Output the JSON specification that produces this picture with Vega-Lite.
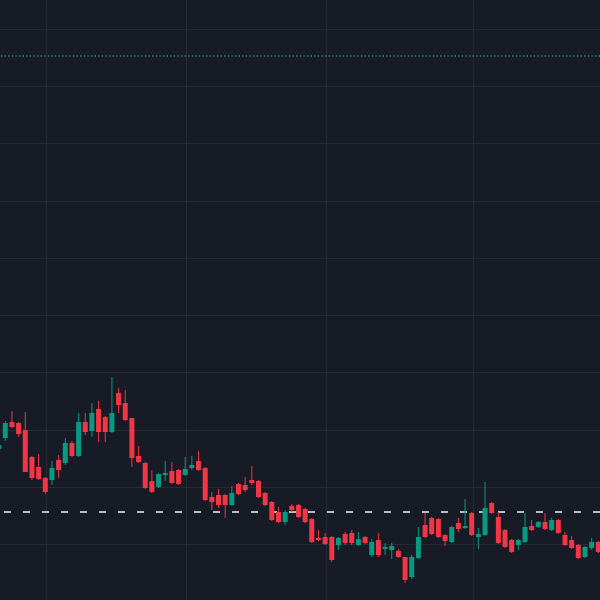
{
  "$schema": "https://vega.github.io/schema/vega-lite/v6.json",
  "width": 600,
  "height": 600,
  "autosize": {"type": "none"},
  "padding": 0,
  "background": "#171b26",
  "config": {
    "view": {"stroke": null},
    "axis": {"grid": true, "gridColor": "#262a36", "gridWidth": 1, "labels": false, "ticks": false, "domain": false, "title": null, "minExtent": 0, "maxExtent": 0}
  },
  "datasets": {
    "candles": [
      {"t":0,"o":15.51,"h":15.58,"l":15.48,"c":15.55},
      {"t":1,"o":15.62,"h":15.79,"l":15.59,"c":15.77},
      {"t":2,"o":15.78,"h":15.89,"l":15.72,"c":15.73},
      {"t":3,"o":15.77,"h":15.78,"l":15.63,"c":15.66},
      {"t":4,"o":15.70,"h":15.88,"l":15.28,"c":15.28},
      {"t":5,"o":15.43,"h":15.44,"l":15.20,"c":15.22},
      {"t":6,"o":15.33,"h":15.46,"l":15.20,"c":15.21},
      {"t":7,"o":15.22,"h":15.23,"l":15.06,"c":15.08},
      {"t":8,"o":15.20,"h":15.39,"l":15.15,"c":15.32},
      {"t":9,"o":15.40,"h":15.45,"l":15.22,"c":15.30},
      {"t":10,"o":15.37,"h":15.62,"l":15.35,"c":15.57},
      {"t":11,"o":15.57,"h":15.59,"l":15.43,"c":15.44},
      {"t":12,"o":15.44,"h":15.87,"l":15.43,"c":15.78},
      {"t":13,"o":15.78,"h":15.87,"l":15.65,"c":15.68},
      {"t":14,"o":15.69,"h":15.97,"l":15.63,"c":15.87},
      {"t":15,"o":15.91,"h":15.99,"l":15.58,"c":15.68},
      {"t":16,"o":15.83,"h":15.84,"l":15.58,"c":15.68},
      {"t":17,"o":15.68,"h":16.23,"l":15.67,"c":15.87},
      {"t":18,"o":16.07,"h":16.12,"l":15.87,"c":15.95},
      {"t":19,"o":15.97,"h":16.10,"l":15.79,"c":15.80},
      {"t":20,"o":15.82,"h":15.82,"l":15.33,"c":15.42},
      {"t":21,"o":15.44,"h":15.54,"l":15.37,"c":15.38},
      {"t":22,"o":15.37,"h":15.38,"l":15.11,"c":15.12},
      {"t":23,"o":15.19,"h":15.30,"l":15.07,"c":15.08},
      {"t":24,"o":15.13,"h":15.27,"l":15.12,"c":15.26},
      {"t":25,"o":15.25,"h":15.39,"l":15.19,"c":15.27},
      {"t":26,"o":15.29,"h":15.38,"l":15.16,"c":15.17},
      {"t":27,"o":15.30,"h":15.31,"l":15.15,"c":15.16},
      {"t":28,"o":15.25,"h":15.43,"l":15.24,"c":15.31},
      {"t":29,"o":15.32,"h":15.44,"l":15.30,"c":15.35},
      {"t":30,"o":15.39,"h":15.49,"l":15.29,"c":15.30},
      {"t":31,"o":15.32,"h":15.33,"l":14.99,"c":15.00},
      {"t":32,"o":15.03,"h":15.08,"l":14.90,"c":14.98},
      {"t":33,"o":15.05,"h":15.11,"l":14.92,"c":14.95},
      {"t":34,"o":15.05,"h":15.06,"l":14.82,"c":14.95},
      {"t":35,"o":14.95,"h":15.14,"l":14.94,"c":15.07},
      {"t":36,"o":15.16,"h":15.17,"l":15.05,"c":15.06},
      {"t":37,"o":15.15,"h":15.23,"l":15.08,"c":15.10},
      {"t":38,"o":15.20,"h":15.34,"l":15.15,"c":15.17},
      {"t":39,"o":15.19,"h":15.20,"l":15.02,"c":15.03},
      {"t":40,"o":15.07,"h":15.08,"l":14.94,"c":14.95},
      {"t":41,"o":14.98,"h":14.99,"l":14.79,"c":14.80},
      {"t":42,"o":14.88,"h":14.93,"l":14.77,"c":14.78},
      {"t":43,"o":14.78,"h":14.90,"l":14.75,"c":14.88},
      {"t":44,"o":14.94,"h":14.96,"l":14.88,"c":14.90},
      {"t":45,"o":14.95,"h":14.96,"l":14.82,"c":14.83},
      {"t":46,"o":14.91,"h":14.92,"l":14.77,"c":14.78},
      {"t":47,"o":14.81,"h":14.82,"l":14.57,"c":14.58},
      {"t":48,"o":14.62,"h":14.70,"l":14.59,"c":14.60},
      {"t":49,"o":14.63,"h":14.67,"l":14.55,"c":14.56},
      {"t":50,"o":14.63,"h":14.64,"l":14.38,"c":14.40},
      {"t":51,"o":14.55,"h":14.63,"l":14.50,"c":14.62},
      {"t":52,"o":14.66,"h":14.68,"l":14.55,"c":14.57},
      {"t":53,"o":14.67,"h":14.70,"l":14.55,"c":14.57},
      {"t":54,"o":14.55,"h":14.68,"l":14.54,"c":14.61},
      {"t":55,"o":14.63,"h":14.64,"l":14.56,"c":14.57},
      {"t":56,"o":14.45,"h":14.61,"l":14.43,"c":14.58},
      {"t":57,"o":14.60,"h":14.67,"l":14.43,"c":14.45},
      {"t":58,"o":14.51,"h":14.57,"l":14.45,"c":14.53},
      {"t":59,"o":14.50,"h":14.57,"l":14.41,"c":14.54},
      {"t":60,"o":14.49,"h":14.51,"l":14.42,"c":14.43},
      {"t":61,"o":14.43,"h":14.43,"l":14.17,"c":14.20},
      {"t":62,"o":14.23,"h":14.45,"l":14.21,"c":14.43},
      {"t":63,"o":14.42,"h":14.73,"l":14.41,"c":14.63},
      {"t":64,"o":14.75,"h":14.87,"l":14.62,"c":14.63},
      {"t":65,"o":14.82,"h":14.83,"l":14.65,"c":14.66},
      {"t":66,"o":14.81,"h":14.82,"l":14.62,"c":14.63},
      {"t":67,"o":14.65,"h":14.66,"l":14.54,"c":14.59},
      {"t":68,"o":14.58,"h":14.74,"l":14.57,"c":14.73},
      {"t":69,"o":14.77,"h":14.82,"l":14.68,"c":14.71},
      {"t":70,"o":14.72,"h":15.01,"l":14.71,"c":14.74},
      {"t":71,"o":14.87,"h":14.88,"l":14.64,"c":14.65},
      {"t":72,"o":14.63,"h":14.72,"l":14.51,"c":14.66},
      {"t":73,"o":14.65,"h":15.18,"l":14.64,"c":14.92},
      {"t":74,"o":14.97,"h":14.98,"l":14.86,"c":14.87},
      {"t":75,"o":14.83,"h":14.88,"l":14.56,"c":14.57},
      {"t":76,"o":14.70,"h":14.71,"l":14.52,"c":14.53},
      {"t":77,"o":14.60,"h":14.61,"l":14.47,"c":14.48},
      {"t":78,"o":14.55,"h":14.61,"l":14.50,"c":14.60},
      {"t":79,"o":14.58,"h":14.87,"l":14.57,"c":14.73},
      {"t":80,"o":14.74,"h":14.80,"l":14.69,"c":14.70},
      {"t":81,"o":14.73,"h":14.79,"l":14.72,"c":14.78},
      {"t":82,"o":14.78,"h":14.87,"l":14.70,"c":14.71},
      {"t":83,"o":14.70,"h":14.82,"l":14.69,"c":14.80},
      {"t":84,"o":14.80,"h":14.81,"l":14.66,"c":14.67},
      {"t":85,"o":14.65,"h":14.68,"l":14.54,"c":14.55},
      {"t":86,"o":14.60,"h":14.64,"l":14.51,"c":14.52},
      {"t":87,"o":14.55,"h":14.56,"l":14.41,"c":14.42},
      {"t":88,"o":14.43,"h":14.54,"l":14.42,"c":14.53},
      {"t":89,"o":14.52,"h":14.62,"l":14.50,"c":14.58},
      {"t":90,"o":14.58,"h":14.59,"l":14.47,"c":14.48}
    ],
    "alert": [{"level": 19.44}],
    "last": [{"level": 14.88}]
  },
  "encoding": {
    "x": {"field": "t", "type": "quantitative", "scale": {"domain": [0.2046, 90.255], "nice": false, "zero": false, "padding": 0},
          "axis": {"values": [7.11, 28.12, 49.13, 71.19], "orient": "bottom"}},
    "y": {"field": "l", "type": "quantitative", "scale": {"domain": [14, 20], "nice": false, "zero": false, "padding": 0},
          "axis": {"values": [14.5565, 15.1295, 15.7025, 16.2755, 16.8485, 17.4215, 17.9945, 18.5675, 19.1405, 19.7135]}}
  },
  "layer": [
    {
      "data": {"name": "alert"},
      "mark": {"type": "rule", "color": "#2f8f8f", "strokeWidth": 1.5, "strokeDash": [1.5, 2.1], "opacity": 0.85},
      "encoding": {"y": {"field": "level", "type": "quantitative"}, "x": null}
    },
    {
      "data": {"name": "last"},
      "mark": {"type": "rule", "color": "#b8bcc4", "strokeWidth": 2, "strokeDash": [7, 12]},
      "encoding": {"y": {"field": "level", "type": "quantitative"}, "x": null}
    },
    {
      "data": {"name": "candles"},
      "mark": {"type": "rule", "strokeWidth": 1, "clip": true},
      "encoding": {
        "y": {"field": "l", "type": "quantitative"},
        "y2": {"field": "h"},
        "color": {"condition": {"test": "datum.o < datum.c", "value": "#089981"}, "value": "#f23645"}
      }
    },
    {
      "data": {"name": "candles"},
      "mark": {"type": "bar", "size": 5, "clip": true},
      "encoding": {
        "y": {"field": "o", "type": "quantitative"},
        "y2": {"field": "c"},
        "color": {"condition": {"test": "datum.o < datum.c", "value": "#089981"}, "value": "#f23645"}
      }
    }
  ]
}
